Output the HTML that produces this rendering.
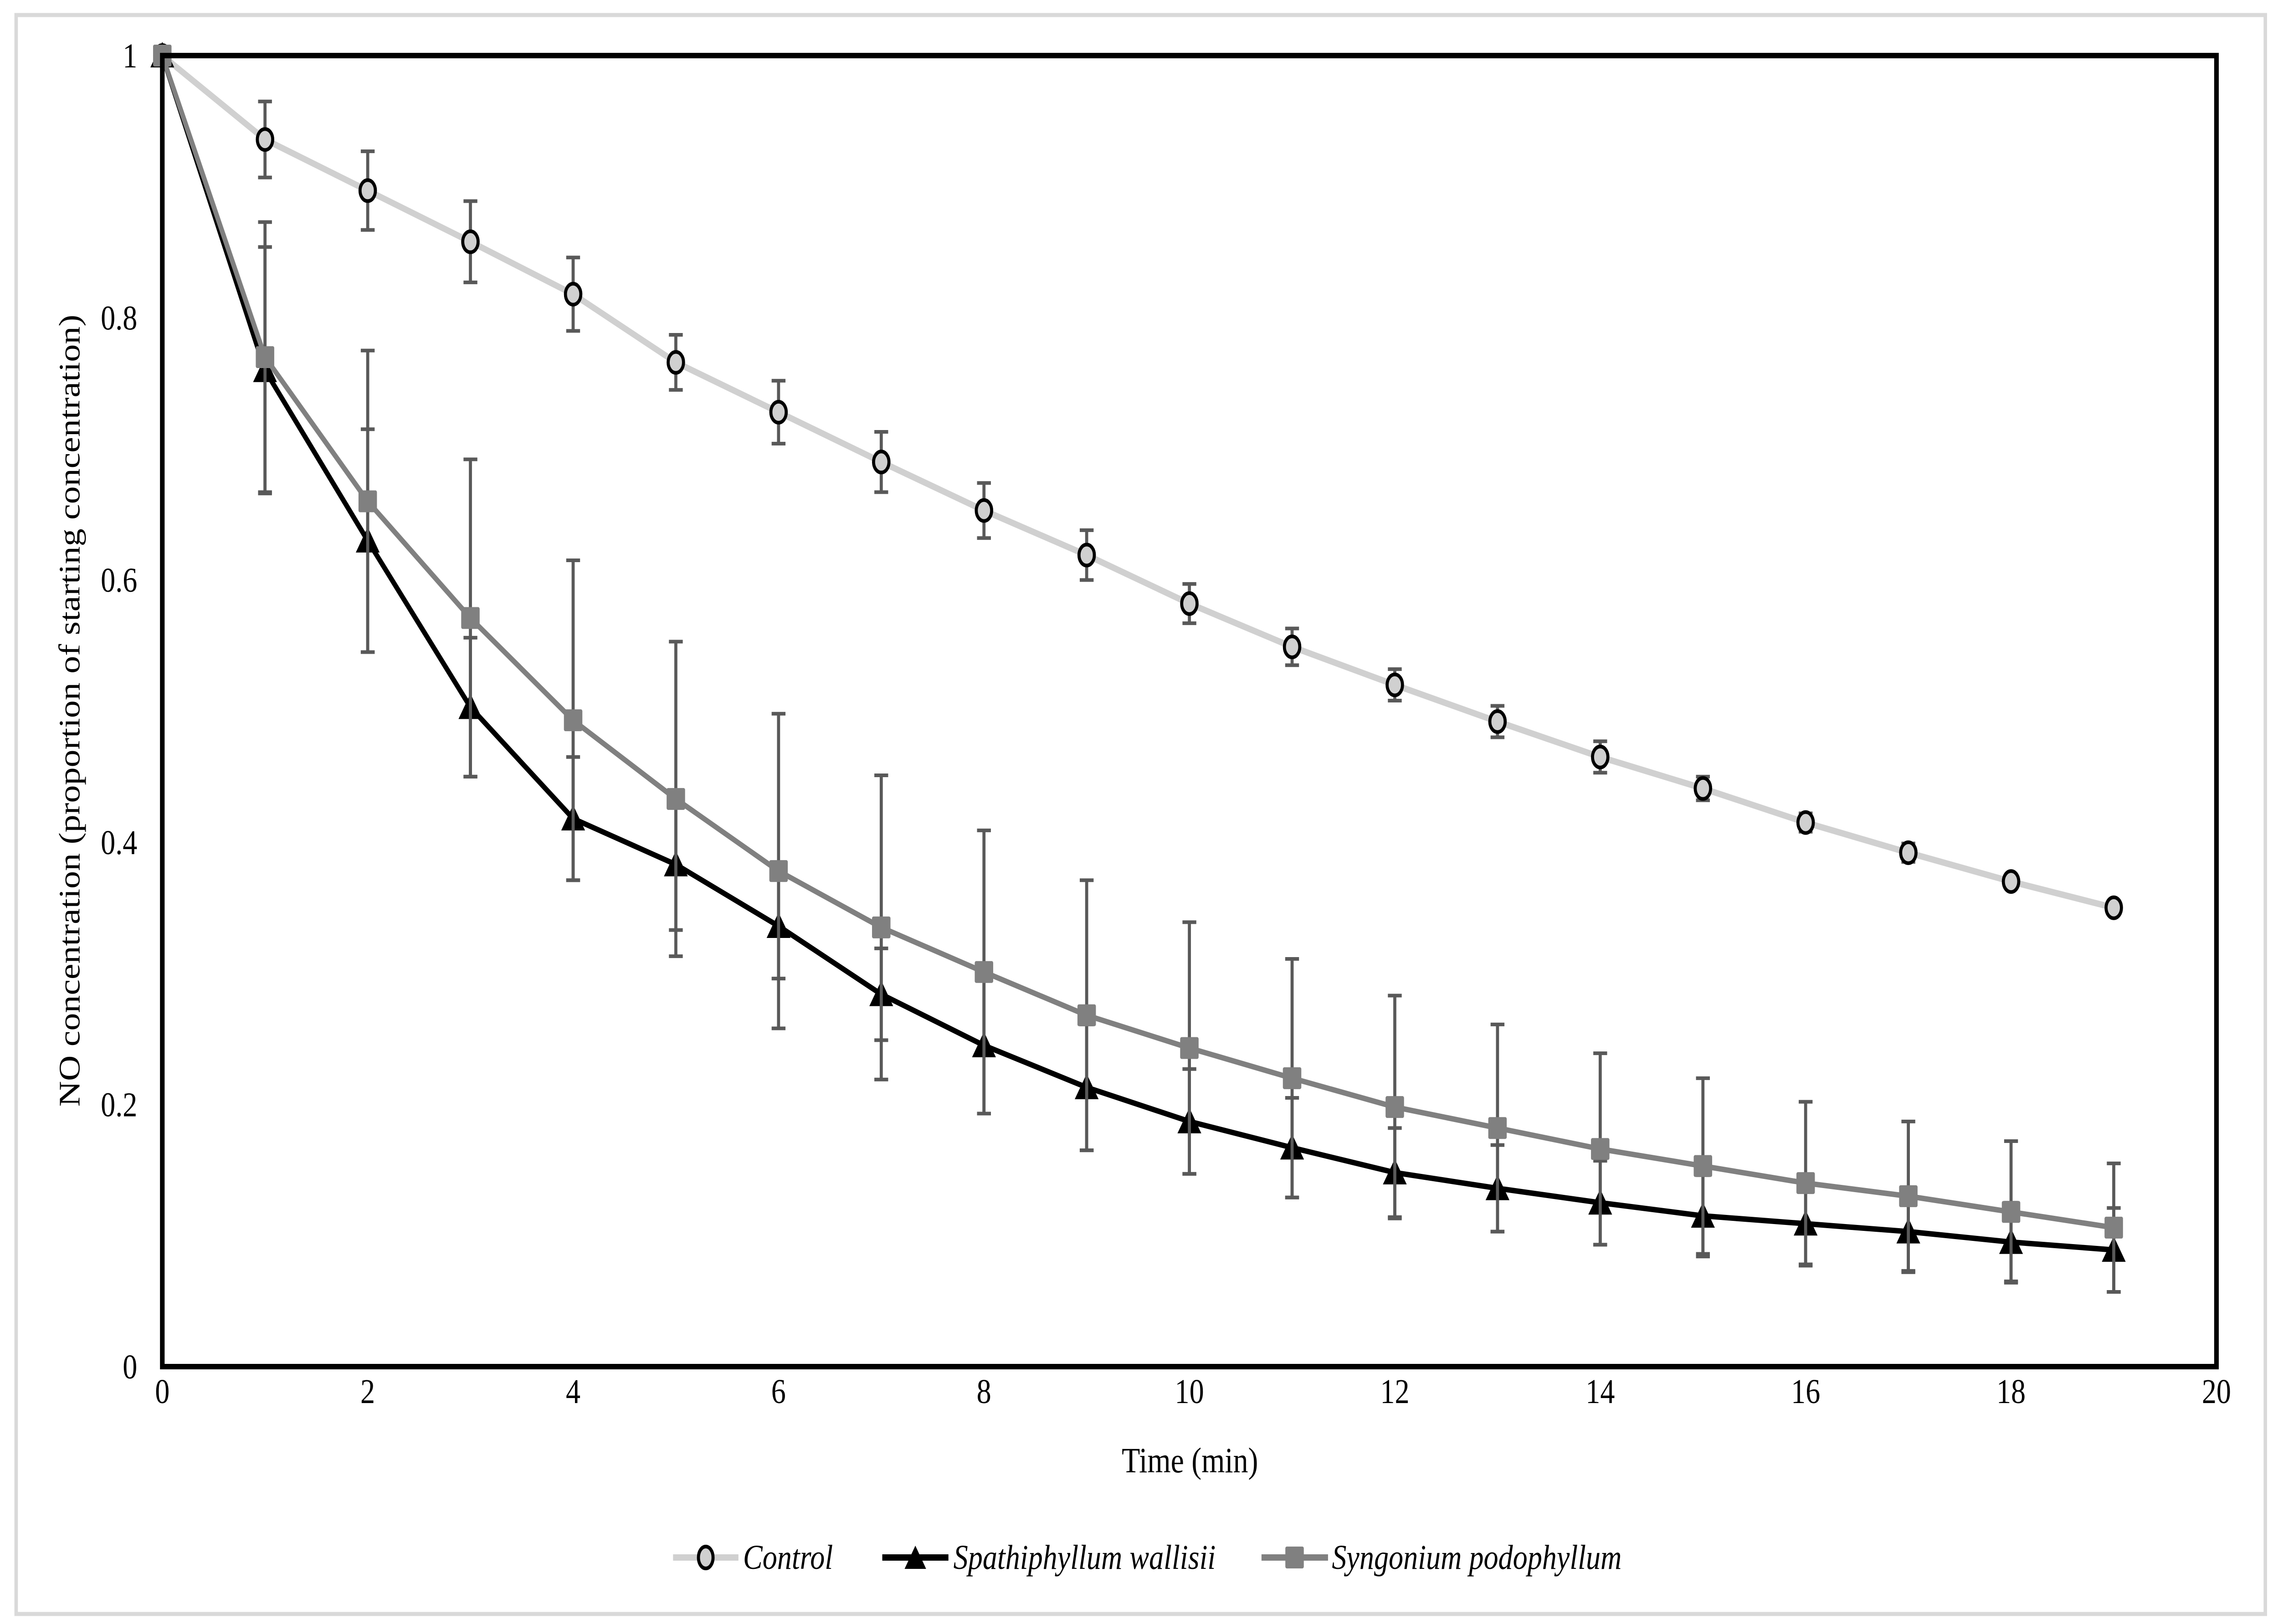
<!DOCTYPE html>
<html><head><meta charset="utf-8"><style>
html,body{margin:0;padding:0;background:#fff;width:100%;height:100%;overflow:hidden;}
svg{display:block;position:absolute;left:0;top:0;width:100vw;height:100vh;font-family:"Liberation Serif",serif;}
</style></head><body>
<svg id="chart" viewBox="0 0 5923 3565" preserveAspectRatio="none" xmlns="http://www.w3.org/2000/svg">
<rect x="42" y="33" width="5848" height="3510" fill="#fff" stroke="#d9d9d9" stroke-width="9"/>
<g id="series"></g>
<rect x="422" y="122" width="5341" height="2878" fill="none" stroke="#000" stroke-width="12"/>
<g id="ticks" font-size="76"></g>
<text x="3094" y="3232" font-size="78" text-anchor="middle">Time (min)</text>
<text transform="translate(207,1560) rotate(-90)" font-size="78" text-anchor="middle">NO concentration (proportion of starting concentration)</text>
<g id="legend" font-size="76" font-style="italic">
  <g>
    <line x1="1750" y1="3419" x2="1920" y2="3419" stroke="#d0d0d0" stroke-width="14"/>
    <ellipse cx="1835" cy="3419" rx="19" ry="24" fill="#d0d0d0" stroke="#000" stroke-width="8"/>
    <text x="1932" y="3444">Control</text>
  </g>
  <g>
    <line x1="2294" y1="3419" x2="2466" y2="3419" stroke="#000" stroke-width="14"/>
    <polygon points="2380,3393 2352,3444 2408,3444" fill="#000"/>
    <text x="2479" y="3444">Spathiphyllum wallisii</text>
  </g>
  <g>
    <line x1="3280" y1="3419" x2="3453" y2="3419" stroke="#808080" stroke-width="14"/>
    <rect x="3342" y="3395" width="48" height="48" rx="4" fill="#808080"/>
    <text x="3463" y="3444">Syngonium podophyllum</text>
  </g>
</g>
</svg>
<script>
const times = [0,1,2,3,4,5,6,7,8,9,10,11,12,13,14,15,16,17,18,19];
const controlValues = [1,0.936,0.897,0.858,0.818,0.766,0.728,0.690,0.653,0.619,0.582,0.549,0.520,0.492,0.465,0.441,0.415,0.392,0.370,0.350];
const controlErr = [0,0.029,0.030,0.031,0.028,0.021,0.024,0.023,0.021,0.019,0.015,0.014,0.012,0.012,0.012,0.009,0.007,0.007,0.005,0.005];
const spathValues = [1,0.760,0.630,0.503,0.418,0.383,0.336,0.284,0.245,0.213,0.187,0.167,0.148,0.136,0.125,0.115,0.109,0.103,0.095,0.089];
const spathErr = [0,0.094,0.085,0.053,0.047,0.05,0.04,0.035,0.052,0.048,0.04,0.038,0.034,0.033,0.032,0.031,0.032,0.031,0.030,0.032];
const syngValues = [1,0.770,0.660,0.571,0.493,0.433,0.378,0.335,0.301,0.268,0.243,0.220,0.198,0.182,0.166,0.153,0.140,0.130,0.118,0.106];
const syngErr = [0,0.103,0.115,0.121,0.122,0.12,0.12,0.116,0.108,0.103,0.096,0.091,0.085,0.079,0.073,0.067,0.062,0.057,0.054,0.049];
const xTicks = [0,2,4,6,8,10,12,14,16,18,20];
const yTicks = [0,0.2,0.4,0.6,0.8,1];
const yTickLabels = ["0","0.2","0.4","0.6","0.8","1"];

const X0=422,X1=5763,Y0=3000,Y1=122;
const xs = t => X0 + (t/20)*(X1-X0);
const ys = v => Y0 - v*(Y0-Y1);
const NS="http://www.w3.org/2000/svg";
function mk(tag, attrs, parent){const e=document.createElementNS(NS,tag);for(const k in attrs)e.setAttribute(k,attrs[k]);parent.appendChild(e);return e;}

const ticks=document.getElementById('ticks');
xTicks.forEach(t=>{const e=mk('text',{x:xs(t),y:3080,'text-anchor':'middle'},ticks);e.textContent=String(t);

});
yTicks.forEach((v,i)=>{const e=mk('text',{x:357,y:ys(v)+26,'text-anchor':'end'},ticks);e.textContent=yTickLabels[i];

});

const sg=document.getElementById('series');
function drawSeries(name, vals, errs, color, lw, marker){
  const g=mk('g',{},sg);
  
  
  vals.forEach((v,i)=>{
    if(!errs[i])return;
    const x=xs(times[i]);
    const eb=mk('path',{d:`M${x},${ys(v+errs[i])}V${ys(v-errs[i])}M${x-18},${ys(v+errs[i])}h36M${x-18},${ys(v-errs[i])}h36`,stroke:'#595959','stroke-width':8,fill:'none'},g);
    
    
  });
  const pts=vals.map((v,i)=>xs(times[i])+','+ys(v)).join(' ');
  const pl=mk('polyline',{points:pts,fill:'none',stroke:color,'stroke-width':lw,'stroke-linejoin':'round'},g);
  
  
  vals.forEach((v,i)=>{
    const x=xs(times[i]),y=ys(v);let m;
    if(marker==='circle') m=mk('ellipse',{cx:x,cy:y,rx:20,ry:23,fill:'#d0d0d0',stroke:'#000','stroke-width':8},g);
    else if(marker==='tri') m=mk('polygon',{points:`${x},${y-30} ${x-31},${y+26} ${x+31},${y+26}`,fill:'#000'},g);
    else m=mk('rect',{x:x-24,y:y-24,width:48,height:48,rx:4,fill:'#808080'},g);
    
    
  });
}
drawSeries('control',controlValues,controlErr,'#d0d0d0',14,'circle');
drawSeries('spathiphyllum',spathValues,spathErr,'#000',12,'tri');
drawSeries('syngonium',syngValues,syngErr,'#808080',12,'square');
</script>
</body></html>
